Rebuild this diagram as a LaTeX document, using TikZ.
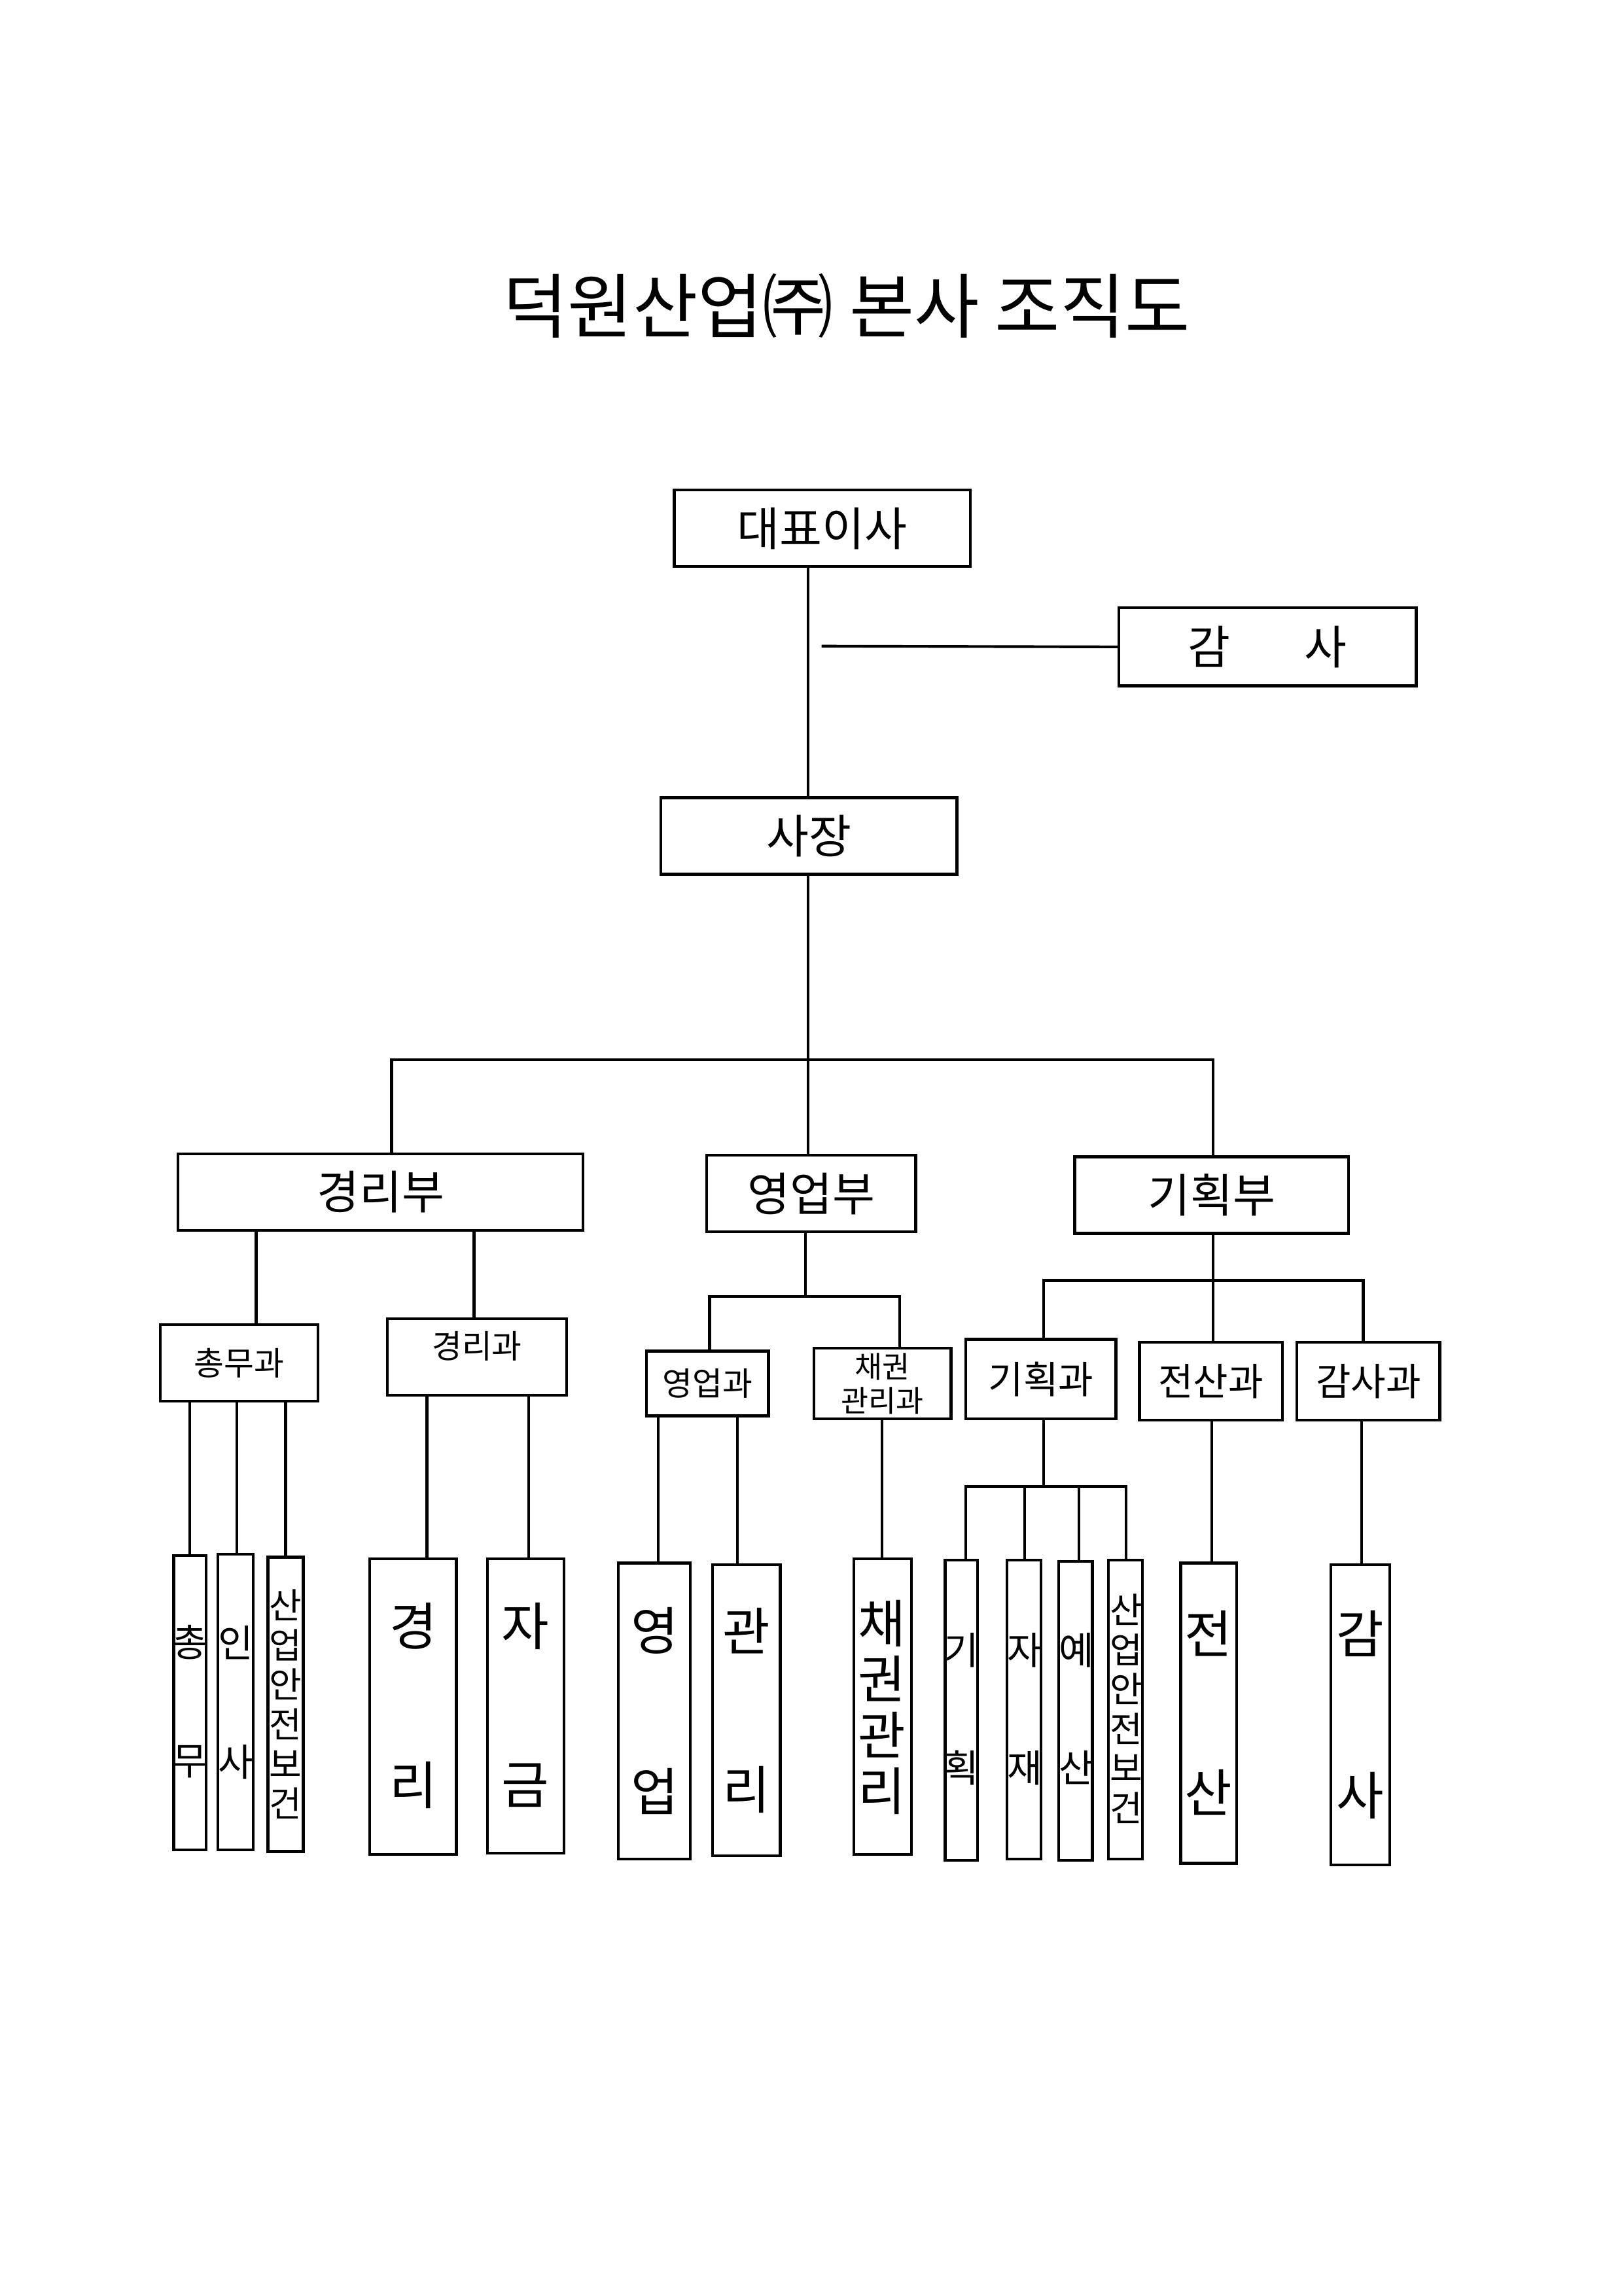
\documentclass[tikz,border=0pt]{standalone}
\usepackage{fontspec}
\setmainfont{Noto Sans CJK KR}
\usetikzlibrary{fit}
\tikzset{box/.style={draw,line width=1pt,inner sep=0pt},
 ln/.style={line width=1pt},
 t/.style={inner sep=0pt,font=\fontsize{#1}{#1}\selectfont}}
\newcommand{\vb}[5]{\node[box,fit={(#2,#3)(#4,#5)}] (#1) {};}
\begin{document}
\begin{tikzpicture}[x=0.01904cm,y=-0.01904cm]
\useasboundingbox (0,0) rectangle (1103,1560);
\node[t=26] (title) at (575,208) {덕원산업㈜ 본사 조직도};
% top
\node[box,fit={(458,333)(659,385)}] (ceo) {};
\node[t=17] at (ceo) {대표이사};
\node[box,fit={(760,413)(962,466)}] (audit) {};
\node[t=17] at (audit) {감\hspace{1.6em}사};
\node[box,fit={(449,542)(650,594)}] (pres) {};
\node[t=17] at (pres) {사장};
\coordinate (aj) at (558,439);
\draw[ln] (aj) -- (audit.west);
\draw[ln] (ceo.south -| 549,0) -- (pres.north -| 549,0);
\coordinate (tj) at (549,720);
\draw[ln] (pres.south -| 549,0) -- (tj);
% departments
\node[box,fit={(121,784)(396,836)}] (d1) {}; \node[t=17] at (d1) {경리부};
\node[box,fit={(480,785)(622,837)}] (d2) {}; \node[t=17] at (d2) {영업부};
\node[box,fit={(730,786)(916,838)}] (d3) {}; \node[t=17] at (d3) {기획부};
\draw[ln] (d1.north -| 266,0) |- (tj) -| (d3.north -| 824,0);
\draw[ln] (tj) -- (d2.north -| 549,0);
% sections
\node[box,fit={(109,900)(216,952)}] (s1) {}; \node[t=12] at (s1) {총무과};
\node[box,fit={(263,896)(385,948)}] (s2) {}; \node[t=12] at ([yshift=4pt]s2) {경리과};
\node[box,fit={(439,918)(522,962)}] (s3) {}; \node[t=12] at (s3) {영업과};
\node[box,fit={(553,916)(646,964)}] (s4) {}; \node[inner sep=0pt,font=\fontsize{11}{12.5}\selectfont,align=center] at (s4) {채권\\관리과};
\node[box,fit={(656,910)(758,964)}] (s5) {}; \node[t=14] at (s5) {기획과};
\node[box,fit={(774,912)(871,965)}] (s6) {}; \node[t=14] at (s6) {전산과};
\node[box,fit={(881,912)(978,965)}] (s7) {}; \node[t=14] at (s7) {감사과};
\draw[ln] (d1.south -| 174,0) -- (s1.north -| 174,0);
\draw[ln] (d1.south -| 322,0) -- (s2.north -| 322,0);
\coordinate (j2) at (547,881);
\draw[ln] (d2.south -| 547,0) -- (j2);
\draw[ln] (s3.north -| 482,0) |- (j2) -| (s4.north -| 611,0);
\coordinate (j3) at (824,870);
\draw[ln] (d3.south -| 824,0) -- (s6.north -| 824,0);
\draw[ln] (s5.north -| 709,0) |- (j3) -| (s7.north -| 926,0);
% bottom units
\vb{u1}{118}{1057}{140}{1257}
\vb{u2}{148}{1056}{172}{1257}
\vb{u3}{182}{1058}{206}{1258}
\vb{u4}{251}{1059}{310}{1260}
\vb{u5}{331}{1059}{383}{1259}
\vb{u6}{420}{1062}{469}{1263}
\vb{u7}{484}{1063}{530}{1261}
\vb{u8}{580}{1059}{619}{1260}
\vb{u9}{642}{1060}{664}{1264}
\vb{u10}{684}{1060}{707}{1263}
\vb{u11}{719}{1061}{742}{1264}
\vb{u12}{753}{1060}{776}{1263}
\vb{u13}{802}{1062}{840}{1266}
\vb{u14}{904}{1063}{944}{1267}
% texts
\tikzset{sm/.style={t=14},bg/.style={t=19},
 st/.style={inner sep=0pt,align=center,font=\fontsize{13}{14.6}\selectfont},
 bst/.style={inner sep=0pt,align=center,font=\fontsize{19}{20.5}\selectfont}}
\node[sm] at (129,1116) {총}; \node[sm] at (129,1197) {무};
\node[sm] at (160,1116) {인}; \node[sm] at (160,1197) {사};
\node[st] at (194,1158) {산\\업\\안\\전\\보\\건};
\node[bg] at (281,1105) {경}; \node[bg] at (281,1213) {리};
\node[bg] at (357,1105) {자}; \node[bg] at (357,1213) {금};
\node[bg] at (445,1108) {영}; \node[bg] at (445,1217) {업};
\node[bg] at (507,1108) {관}; \node[bg] at (507,1216) {리};
\node[bst] at (599,1160) {채\\권\\관\\리};
\node[sm] at (653,1121) {기}; \node[sm] at (653,1201) {획};
\node[sm] at (696,1121) {자}; \node[sm] at (696,1201) {재};
\node[sm] at (731,1121) {예}; \node[sm] at (731,1201) {산};
\node[st] at (765,1161) {산\\업\\안\\전\\보\\건};
\node[bg] at (821,1110) {전}; \node[bg] at (821,1218) {산};
\node[bg] at (924,1110) {감}; \node[bg] at (924,1220) {사};
% connectors to units
\draw[ln] (s1.south -| 129,0) -- (u1.north -| 129,0);
\draw[ln] (s1.south -| 161,0) -- (u2.north -| 161,0);
\draw[ln] (s1.south -| 194,0) -- (u3.north -| 194,0);
\draw[ln] (s2.south -| 290,0) -- (u4.north -| 290,0);
\draw[ln] (s2.south -| 359,0) -- (u5.north -| 359,0);
\draw[ln] (s3.south -| 447,0) -- (u6.north -| 447,0);
\draw[ln] (s3.south -| 501,0) -- (u7.north -| 501,0);
\draw[ln] (s4.south -| 599,0) -- (u8.north -| 599,0);
\coordinate (j5) at (709,1010);
\draw[ln] (s5.south -| 709,0) -- (j5);
\draw[ln] (u9.north -| 656,0) |- (j5) -| (u12.north -| 765,0);
\draw[ln] (u10.north -| 696,0) -- (j5 -| 696,0);
\draw[ln] (u11.north -| 733,0) -- (j5 -| 733,0);
\draw[ln] (s6.south -| 823,0) -- (u13.north -| 823,0);
\draw[ln] (s7.south -| 925,0) -- (u14.north -| 925,0);
\end{tikzpicture}
\end{document}
